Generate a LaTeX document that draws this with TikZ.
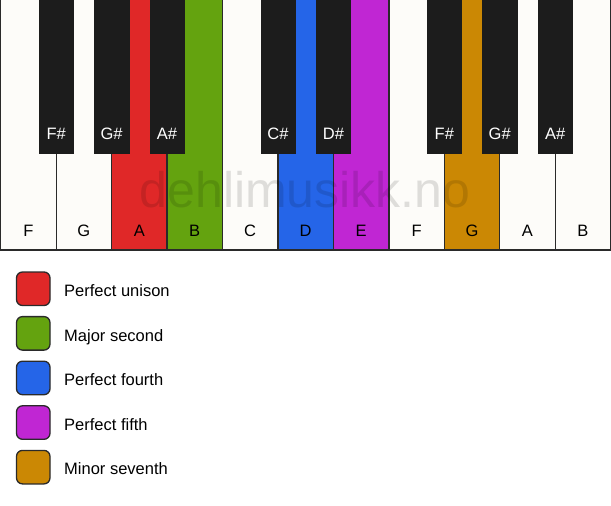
\documentclass[tikz,border=0pt]{standalone}
\usepackage{fontspec}
\setmainfont{Liberation Sans}
\usepackage{tikz}

\definecolor{keywhite}{HTML}{FDFCF9}
\definecolor{keyblack}{HTML}{1C1C1C}
\definecolor{keyline}{HTML}{2A2A2A}
\definecolor{unisonred}{HTML}{E02828}
\definecolor{secondgreen}{HTML}{64A30F}
\definecolor{fourthblue}{HTML}{2565E8}
\definecolor{fifthpurple}{HTML}{C026D3}
\definecolor{seventhorange}{HTML}{CB8804}

\tikzset{
  whitekey/.style={draw=keyline,line width=1.3pt},
  blackkey/.style={fill=keyblack,draw=keyblack},
  keylabel/.style={anchor=base,inner sep=0pt,font=\fontsize{16.5}{18}\selectfont},
  legendbox/.style={draw=keyline,line width=1.3pt,rounded corners=6pt},
  legendtext/.style={anchor=base west,inner sep=0pt,font=\fontsize{16.5}{18}\selectfont},
  watermark/.style={anchor=base,inner sep=0pt,text=black,text opacity=0.12,font=\fontsize{50}{52}\selectfont}
}

\begin{document}
\begin{tikzpicture}[x=1pt,y=-1pt]
\useasboundingbox (0,0) rectangle (611,506);
% white keys
\foreach \i/\n/\c in {0/F/keywhite,1/G/keywhite,2/A/unisonred,3/B/secondgreen,
  4/C/keywhite,5/D/fourthblue,6/E/fifthpurple,7/F/keywhite,8/G/seventhorange,
  9/A/keywhite,10/B/keywhite}
{
  \draw[whitekey,fill=\c] (\i*55.45+0.7,-3) rectangle ++(55.45,253);
  \node[keylabel,text=black] (w\i) at (\i*55.45+28.4,236) {\n};
}
% black keys
\foreach \i/\n in {1/F\#,2/G\#,3/A\#,5/C\#,6/D\#,8/F\#,9/G\#,10/A\#}
{
  \fill[blackkey] (\i*55.45+0.7-17.2,-3) rectangle ++(34.4,156.3);
  \node[keylabel,text=white] (b\i) at (\i*55.45+0.7,139.5) {\n};
}
\node[watermark] (wm) at (305,207) {dehlimusikk.no};
% legend
\foreach \j/\c/\t in {0/unisonred/Perfect unison,1/secondgreen/Major second,
  2/fourthblue/Perfect fourth,3/fifthpurple/Perfect fifth,4/seventhorange/Minor seventh}
{
  \draw[legendbox,fill=\c] (16.5,272+\j*44.6) rectangle ++(33.5,33.5);
  \node[legendtext] (l\j) at (64,296.5+\j*44.6) {\t};
}
\end{tikzpicture}
\end{document}
